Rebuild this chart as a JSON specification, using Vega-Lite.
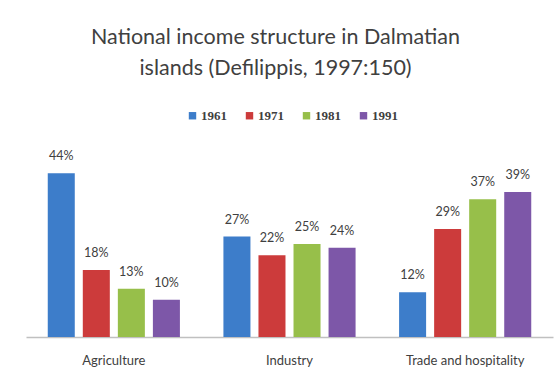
{
  "$schema": "https://vega.github.io/schema/vega-lite/v6.json",
  "width": 527,
  "height": 186,
  "autosize": {"type": "none"},
  "padding": {"left": 26, "top": 151, "right": 3, "bottom": 39},
  "background": "white",
  "view": {"stroke": null},
  "title": {
    "text": ["National income structure in Dalmatian", "islands (Defilippis, 1997:150)"],
    "font": "Lato",
    "fontSize": 21.5,
    "fontWeight": "normal",
    "color": "#404040",
    "lineHeight": 31,
    "anchor": "middle",
    "offset": 30,
    "dx": -14
  },
  "data": {
    "values": [
      {"category": "Agriculture", "year": "1961", "value": 44, "label": "44%"},
      {"category": "Agriculture", "year": "1971", "value": 18, "label": "18%"},
      {"category": "Agriculture", "year": "1981", "value": 13, "label": "13%"},
      {"category": "Agriculture", "year": "1991", "value": 10, "label": "10%"},
      {"category": "Industry", "year": "1961", "value": 27, "label": "27%"},
      {"category": "Industry", "year": "1971", "value": 22, "label": "22%"},
      {"category": "Industry", "year": "1981", "value": 25, "label": "25%"},
      {"category": "Industry", "year": "1991", "value": 24, "label": "24%"},
      {"category": "Trade and hospitality", "year": "1961", "value": 12, "label": "12%"},
      {"category": "Trade and hospitality", "year": "1971", "value": 29, "label": "29%"},
      {"category": "Trade and hospitality", "year": "1981", "value": 37, "label": "37%"},
      {"category": "Trade and hospitality", "year": "1991", "value": 39, "label": "39%"}
    ]
  },
  "encoding": {
    "x": {
      "field": "category",
      "type": "nominal",
      "sort": null,
      "scale": {"paddingInner": 0.202, "paddingOuter": 0.101},
      "axis": {
        "title": null,
        "labelAngle": 0,
        "labelFont": "Lato",
        "labelFontSize": 13,
        "labelColor": "#404040",
        "labelPadding": 17,
        "ticks": false,
        "domainColor": "#c0c0c0",
        "domainWidth": 1.5
      }
    },
    "xOffset": {
      "field": "year",
      "type": "nominal",
      "scale": {"paddingInner": 0.229, "paddingOuter": 0.1145}
    },
    "y": {
      "field": "value",
      "type": "quantitative",
      "scale": {"domain": [0, 50]},
      "axis": null
    }
  },
  "layer": [
    {
      "mark": {"type": "bar"},
      "encoding": {
        "color": {
          "field": "year",
          "type": "nominal",
          "scale": {"range": ["#3d7dca", "#cc3b3b", "#97bf4a", "#7d57a8"]},
          "legend": {
            "title": null,
            "orient": "none",
            "direction": "horizontal",
            "legendX": 160,
            "legendY": -42,
            "symbolType": "square",
            "symbolSize": 55,
            "symbolStrokeWidth": 0,
            "labelFont": "Liberation Serif",
            "labelFontWeight": "bold",
            "labelFontSize": 13,
            "labelColor": "#404040",
            "labelOffset": 2,
            "columnPadding": 16
          }
        }
      }
    },
    {
      "mark": {"type": "text", "baseline": "bottom", "dy": -10, "font": "Lato", "fontSize": 12.5, "color": "#404040"},
      "encoding": {
        "text": {"field": "label", "type": "nominal"}
      }
    }
  ]
}
